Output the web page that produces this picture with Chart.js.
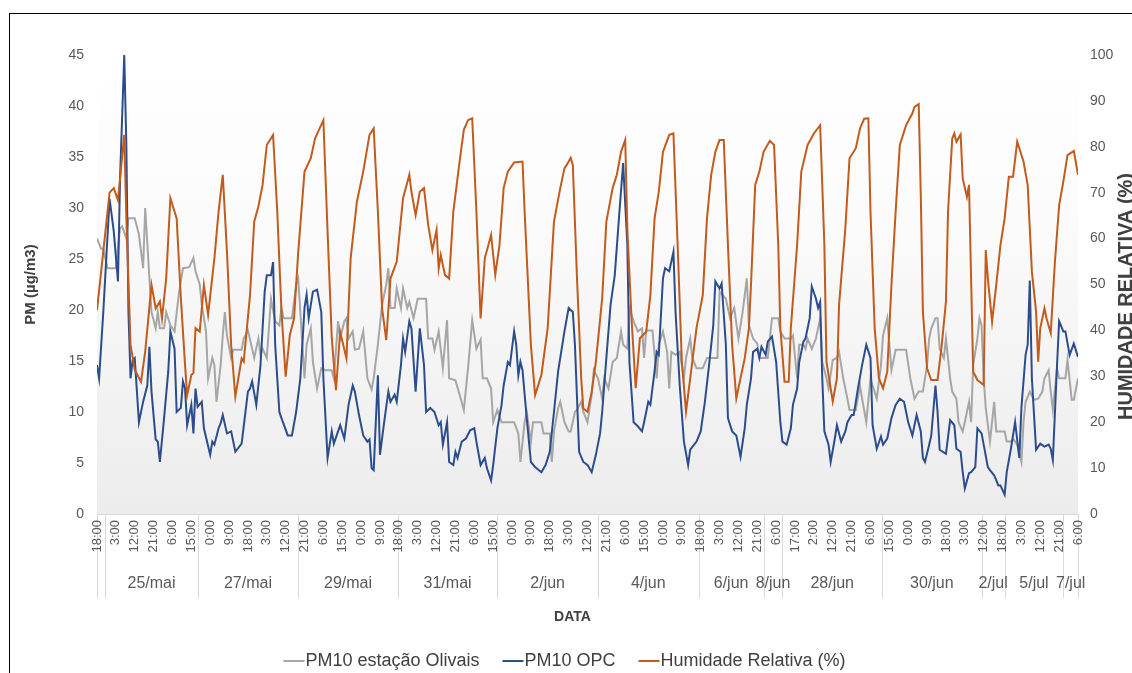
<!DOCTYPE html>
<html><head><meta charset="utf-8">
<script src="https://cdn.jsdelivr.net/npm/chart.js@4.4.0/dist/chart.umd.min.js"></script>
<style>
html,body{margin:0;padding:0;background:#fff;overflow:hidden;width:1132px;height:673px;}
#frame{position:absolute;left:9px;top:13px;width:1140px;height:670px;border:1px solid #000;background:#fff;}
canvas{display:block;}
</style></head><body>
<div id="frame"><canvas id="c" width="1140" height="670"></canvas></div>
<script>
// ---------- DATA ----------
const labelStep = 9; // one time label every 9 hourly categories
const timeLabels = ["18:00","3:00","12:00","21:00","6:00","15:00","0:00","9:00","18:00","3:00","12:00","21:00","6:00","15:00","0:00","9:00","18:00","3:00","12:00","21:00","6:00","15:00","0:00","9:00","18:00","3:00","12:00","21:00","6:00","15:00","0:00","9:00","18:00","3:00","12:00","21:00","6:00","17:00","2:00","12:00","21:00","6:00","15:00","0:00","9:00","18:00","3:00","12:00","18:00","3:00","12:00","21:00","6:00"];
const dateBounds = [0,4,48,96,143.5,191,239,287,318,327,374.5,422,433,461,468];
const dateLabels = ["","25/mai","27/mai","29/mai","31/mai","2/jun","4/jun","6/jun","8/jun","28/jun","30/jun","2/jul","5/jul","7/jul"];

const olivaisHour = [0,2,3,5,9,11,12,14,15,18,20,22,23,25,26,28,29,30,32,33,35,37,39,41,44,46,47,49,50,52,53,55,56,57,59,60,61,62,64,65,69,70,72,73,75,77,78,79,81,83,85,87,88,89,93,95,96,97,99,100,102,103,105,107,109,112,113,115,116,118,119,120,122,123,125,127,129,131,132,134,136,138,139,140,142,143,145,146,148,149,151,153,157,158,160,161,163,165,167,168,171,173,175,177,178,179,181,183,184,186,188,189,191,193,199,201,202,204,205,207,208,212,213,216,217,218,220,221,223,225,226,228,229,231,232,234,236,237,239,241,242,244,246,248,250,251,253,254,256,258,260,261,262,265,267,268,270,272,273,274,276,278,280,281,283,284,286,289,291,296,297,300,302,304,306,308,310,311,313,315,316,320,321,322,325,326,328,331,332,334,335,337,338,339,341,343,345,346,348,349,351,353,354,356,358,359,362,364,365,367,369,370,372,374,375,377,379,381,386,388,390,392,394,396,397,398,400,401,402,404,405,407,408,410,411,413,414,416,417,418,420,421,422,423,424,426,427,428,429,433,434,436,437,439,441,442,443,445,447,449,451,452,454,455,456,458,459,462,463,465,466,468];
const olivaisPM = [27,26,26,24.1,24.1,28,28.2,27,29,29,27.4,24.1,30,23.1,19.8,18.2,19.8,18.2,18.2,19.8,18.5,17.9,21.5,24.1,24.2,25.1,23.8,22.5,20.5,17.9,13.3,15.3,14.6,11,14.6,17.5,19.8,17.5,15.3,16.1,16.1,17.2,18,17.1,15.3,17.2,15.6,16.2,15.3,21.1,18.9,18.5,20.2,19.2,19.2,22.5,23.1,19.8,13.3,16.6,18.2,14.9,12.3,14.3,14.1,14.1,13.3,18.9,17.2,18.9,19.2,17.2,17.9,16.1,16.2,17.9,13.3,12.2,13.3,16.6,20.5,22.5,24.1,20.2,20.2,22.1,20.2,22.1,20.2,20.8,19.2,21.1,21.1,17.2,17.2,16.1,17.9,14.3,19,13.3,13.1,11.7,10.2,14.3,16.6,19,16.2,17.1,13.3,13.3,12.3,9,10.2,9,9,7.9,5.1,9,10,7.1,9,9,7.9,7.9,5.1,8.1,10.4,11,9,8.1,8.1,10,10.2,11,10,9,11.7,14.1,13.3,11.3,13.3,12.3,14.9,15.3,17.9,16.6,16.2,20.2,18.9,17.9,18.2,15.3,18,18,13.3,16.6,17.9,15.9,12.3,15.9,15.6,15.9,13.3,15.3,17.2,15.3,14.3,14.3,15.3,15.3,21.8,21.1,19.2,20.2,17.2,19.8,23.1,18.5,17.2,16.7,15.3,15.3,17.2,19.2,19.2,17.9,17.2,17.2,17.5,13.3,16.6,16.6,16.2,17.2,16.2,17.2,19.2,14.9,13.3,12.3,15.1,15.3,15.9,13.3,11.3,10.2,10.2,12.6,11.3,9,13.3,12.6,11.3,14.6,17.5,19.2,14.1,16.1,16.1,13.3,11.3,12,12,14.6,17.2,18.2,19.2,19.2,16.2,15.3,17.2,13.3,12,11.3,9,8.1,9,11,9,14.6,17.2,19.2,18.5,13.3,10.4,7.1,9,11,8.1,8.1,7.1,7.1,7.4,6.8,5.1,9,11,12,11.2,11.3,12,13.3,14.1,12,10.2,14.3,13.3,13.3,15.1,11.2,11.2,13.3];

const opcHour = [0,1,3,6,7,8,10,11,13,14,15,16,17,18,20,22,24,25,26,28,29,30,32,34,35,37,38,40,41,42,43,45,46,47,48,50,51,54,55,56,58,59,60,62,64,66,69,72,73,74,76,78,80,81,83,84,85,87,88,91,93,95,97,99,100,101,103,105,107,108,110,112,113,116,118,120,122,123,125,127,129,130,131,132,134,135,137,139,140,142,143,145,146,147,149,150,152,154,156,157,159,161,163,164,165,167,168,170,171,172,174,176,178,180,181,183,185,186,188,189,191,193,194,196,197,199,200,201,202,203,205,207,209,212,214,216,218,220,223,225,227,228,230,232,234,236,238,240,241,243,245,247,249,251,253,254,256,258,260,261,263,264,266,267,268,270,271,273,275,276,278,280,282,283,286,288,290,292,294,295,297,298,300,301,303,305,307,309,310,312,313,315,316,317,319,320,322,324,326,327,329,331,332,334,335,337,338,340,341,343,344,345,346,347,349,350,352,353,355,357,358,360,361,363,365,367,369,370,372,374,375,377,379,381,383,385,387,389,391,393,394,395,397,398,400,401,402,405,407,409,410,412,413,414,416,417,419,420,422,423,425,426,428,430,431,433,434,436,438,440,441,443,444,445,446,448,450,452,454,455,456,458,459,461,462,464,466,468];
const opcPM = [14.6,13.3,19.8,30.9,29.3,27.7,22.8,32.9,45,36.2,19.8,13.3,15.1,15.3,9,11,12.6,16.4,12,7.3,7.1,5.1,9.4,14,17.9,16.2,10,10.4,13,12.3,8.7,10.7,7.9,12.3,10.5,11,8.4,5.8,7.1,6.8,8.4,8.9,9.7,7.9,8.1,6.1,6.9,12,12.3,13,10.7,14.6,21.8,23.4,23.4,24.7,16.6,10,9.4,7.7,7.7,10,13.3,20.2,21.5,19.2,21.8,22,19.8,13.3,5.5,8.1,6.9,8.7,7.4,10.7,12.6,12,9.7,7.7,7.1,7.3,4.5,4.3,13.6,5.8,9,12,11,11.7,11,14.6,17.2,15.9,18.9,18.2,12,18.2,14.6,10,10.4,10,8.7,9,6.8,9,5.1,4.8,6.1,5.5,7.1,7.4,8.2,8.4,7.1,4.8,5.5,4.5,3.3,4.8,8.4,10.7,12.6,14.9,14.6,17.9,16.6,13.6,14.9,14.1,9.4,5.1,4.6,4.1,4.8,6.1,10,14,17.9,20.2,19.8,16.6,6.1,5.1,4.8,4.1,5.8,7.9,10,15.3,20.5,23.4,29,34.4,26.4,14.9,9,8.6,8.1,9,11,10.7,14,15.9,15.6,23.1,24.1,23.8,25.7,19.8,12.6,7.1,4.8,6.3,7.1,8.1,11,14.6,18.5,22.8,22.1,22.6,16.6,9.4,8.1,7.7,5.6,8.4,10.7,13.3,15.9,16.2,15.3,16.4,15.6,16.9,17.4,14.9,9,7.1,6.8,8.4,10.7,12.3,14.9,16.9,17.2,19.2,22.3,21.1,20.2,20.8,13.3,8.1,6.8,5.1,7.4,8.7,7.1,8.1,9,9.7,9.7,12.3,14.6,16.6,15.3,8.7,6.4,7.6,6.8,7.4,9.4,10.7,11.3,11,9,7.7,9.7,8.1,5.5,5.1,6.8,7.7,12.6,10,6.3,5.9,9.2,8.7,6.4,6.1,4.1,2.5,4,4.1,4.6,8.4,7.9,6.8,4.6,4.3,3.8,2.8,2.8,1.9,4.1,6.4,9,5.5,10.4,15.6,16.6,22.9,13.3,6.3,6.9,6.6,6.8,6.4,5.3,14.6,18.9,17.9,17.9,15.6,16.7,15.4];

const humHour = [0,6,8,10,13,14,16,18,21,23,26,28,30,31,33,35,38,40,42,43,45,46,47,49,51,53,56,58,60,62,64,66,69,70,73,75,77,79,81,84,86,88,90,92,94,96,99,102,104,108,110,112,114,116,119,121,124,127,130,132,134,136,138,140,143,146,149,150,152,154,156,158,160,162,163,164,166,168,170,173,175,177,179,181,183,185,188,190,192,194,196,199,203,204,207,209,212,215,218,221,223,224,226,227,229,231,232,234,236,238,241,243,246,248,250,252,253,255,257,259,262,264,266,268,270,273,275,277,279,281,284,286,289,291,293,295,297,299,301,303,305,307,309,311,312,314,316,318,321,323,325,326,328,330,331,334,336,339,342,345,347,348,351,353,354,357,359,362,364,366,368,369,371,373,375,377,379,381,383,386,389,390,392,393,394,396,398,401,403,405,406,408,409,410,412,413,415,416,417,418,420,422,423,424,425,427,429,431,433,435,437,439,442,444,446,448,449,450,452,453,455,457,459,461,463,466,468];
const humRH = [44.4,70,71,68.4,82.6,64.5,36.8,31.4,28.8,35.4,49.9,44.8,46.3,42.6,51.3,68.8,64.4,47.1,32.5,25.9,30.3,30.7,40.5,39.7,49.9,43.4,55.7,65.9,73.9,57.1,36.8,25.6,33.9,33.2,47.7,63.7,67,71.7,80.4,82.6,65.9,44.1,29.9,39,42.6,57.1,74.6,77.5,81.8,85.8,61.5,38.3,27,39.7,33.9,55.7,68.1,74.6,82.6,84,65.9,44.8,37.9,51.3,55,68.8,73.9,70.2,65.1,70.2,71,63,57.5,61.9,53.5,56.4,52.1,51.3,65.9,76.8,83.7,85.8,86.2,65.9,42.6,55.7,60.8,52.1,58.6,71,74.6,76.6,76.8,65.9,36.8,25.9,30.3,40.5,63.7,71,75.3,76,77.6,76,51.3,29.6,23,22.3,26.6,33.2,47,63.7,71,73.9,78.9,81.5,62.2,42.6,27.4,38.3,39.7,47.7,64.4,70.2,78.9,82.6,82.9,58.6,33.2,22.3,33.2,40.5,47.7,64.4,73.9,78.9,81.5,81.5,58.6,36.8,25.2,29.6,33.9,40.5,50,71.7,74.6,78.9,81.3,80.4,58.6,40.5,28.8,28.8,40.5,58.6,74.6,80.4,82.9,84.7,58.6,33.2,24.5,29.6,45.5,62.2,77.5,79.7,84,86.1,86.2,65.9,40.5,29.6,27.4,31,49.9,65.9,80.4,84.7,87.3,88.7,89.3,69.5,44.1,31.7,29.2,29.2,36.8,46.3,65.9,81.8,82.9,81.1,82.7,73.1,69.1,71.7,51.3,31,29.2,28.5,28.1,57.5,51.3,41.9,49.9,58.6,64.4,73.5,73.5,81.1,76.8,71.7,52.8,44.1,33.2,40.5,44.8,42.6,39.4,55,67.3,72.4,78.2,79.1,73.9];

// ---------- CHART ----------
const FONT = "'Liberation Sans', Arial, sans-serif";
Chart.defaults.font.family = FONT;
Chart.defaults.color = '#595959';

const toPts = (xs, ys) => xs.map((h, i) => ({x: h, y: ys[i]}));

// legend marker: a short coloured dash placed right against the label text
function dashMarker(color) {
  const c = document.createElement('canvas');
  c.width = 36; c.height = 4;
  const g = c.getContext('2d');
  g.fillStyle = color;
  g.fillRect(11, 1, 21, 2);
  return c;
}

const bgPlugin = {
  id: 'bg',
  beforeDraw(chart) {
    const {ctx, chartArea: a} = chart;
    const x = chart.scales.x, xd = chart.scales.xd;
    ctx.save();
    const g = ctx.createLinearGradient(0, a.top, 0, a.bottom);
    g.addColorStop(0, '#ffffff');
    g.addColorStop(0.35, '#fbfbfb');
    g.addColorStop(1, '#ececec');
    ctx.fillStyle = g;
    ctx.fillRect(a.left, a.top, a.right - a.left, a.bottom - a.top);
    ctx.strokeStyle = '#d9d9d9';
    ctx.lineWidth = 1;
    dateBounds.forEach(b => {
      const px = Math.round(x.getPixelForValue(b)) + 0.5;
      ctx.beginPath();
      ctx.moveTo(px, x.top);
      ctx.lineTo(px, xd.top + 36);
      ctx.stroke();
    });
    ctx.restore();
  }
};

const titlePlugin = {
  id: 'titles',
  afterDraw(chart) {
    const {ctx, chartArea: a} = chart;
    const xd = chart.scales.xd, y1 = chart.scales.y1;
    ctx.save();
    ctx.fillStyle = '#404040';
    ctx.textAlign = 'center';
    ctx.textBaseline = 'middle';
    ctx.font = "bold 14px " + FONT;
    ctx.fillText('DATA', (a.left + a.right) / 2 - 15, xd.top + 55);
    ctx.font = "bold 20px " + FONT;
    ctx.translate(y1.left + 48.5, (a.top + a.bottom) / 2 + 12);
    ctx.rotate(-Math.PI / 2);
    ctx.fillText('HUMIDADE RELATIVA (%)', 0, 0);
    ctx.restore();
  }
};

const cGray = '#a6a6a6', cBlue = '#2c4d8b', cOrange = '#c25b1b';

new Chart(document.getElementById('c'), {
  type: 'line',
  data: {
    datasets: [
      {label: 'PM10 estação Olivais', data: toPts(olivaisHour, olivaisPM), borderColor: cGray, backgroundColor: cGray, pointStyle: dashMarker(cGray), borderWidth: 2, pointRadius: 0, tension: 0, yAxisID: 'y', order: 3},
      {label: 'PM10 OPC', data: toPts(opcHour, opcPM), borderColor: cBlue, backgroundColor: cBlue, pointStyle: dashMarker(cBlue), borderWidth: 2, pointRadius: 0, tension: 0, yAxisID: 'y', order: 2},
      {label: 'Humidade Relativa (%)', data: toPts(humHour, humRH), borderColor: cOrange, backgroundColor: cOrange, pointStyle: dashMarker(cOrange), borderWidth: 2, pointRadius: 0, tension: 0, yAxisID: 'y1', order: 1}
    ]
  },
  options: {
    responsive: false,
    animation: false,
    devicePixelRatio: 1,
    layout: {padding: {top: 41, left: 0, right: 30, bottom: 4}},
    plugins: {
      legend: {
        position: 'bottom',
        labels: {
          usePointStyle: true, pointStyleWidth: 12,
          font: {size: 18}, color: '#404040', padding: 24,
          sort: (a, b) => a.datasetIndex - b.datasetIndex
        }
      },
      tooltip: {enabled: false}
    },
    scales: {
      x: {
        type: 'linear', position: 'bottom', min: 0, max: 468,
        grid: {display: false, drawTicks: false},
        border: {display: true, color: '#d9d9d9', width: 1},
        ticks: {autoSkip: false, minRotation: 90, maxRotation: 90, padding: 6, font: {size: 13}, color: '#595959',
          callback: (v, i) => timeLabels[i]},
        afterBuildTicks: s => { s.ticks = timeLabels.map((_, i) => ({value: i * labelStep})); },
        afterFit: s => { s.height = 48; }
      },
      xd: {
        type: 'linear', position: 'bottom', min: 0, max: 468,
        grid: {display: false, drawTicks: false},
        border: {display: false},
        ticks: {autoSkip: false, minRotation: 0, maxRotation: 0, padding: 12, font: {size: 16}, color: '#595959',
          callback: (v, i) => dateLabels[i]},
        afterBuildTicks: s => { s.ticks = dateLabels.map((_, i) => ({value: (dateBounds[i] + dateBounds[i + 1]) / 2})); },
        afterFit: s => { s.height = 66; }
      },
      y: {
        type: 'linear', position: 'left', min: 0, max: 45,
        grid: {display: false, drawTicks: false},
        border: {display: false},
        ticks: {stepSize: 5, padding: 13, font: {size: 14}, color: '#595959'},
        title: {display: true, text: 'PM (µg/m3)', font: {size: 15, weight: 'bold'}, color: '#404040', padding: {top: 12, bottom: 0}},
        afterFit: s => { s.width = 87; }
      },
      y1: {
        type: 'linear', position: 'right', min: 0, max: 100,
        grid: {display: false, drawTicks: false},
        border: {display: false},
        ticks: {stepSize: 10, padding: 12, font: {size: 14}, color: '#595959'},
        afterFit: s => { s.width = 42; }
      }
    }
  },
  plugins: [bgPlugin, titlePlugin]
});
</script></body></html>
